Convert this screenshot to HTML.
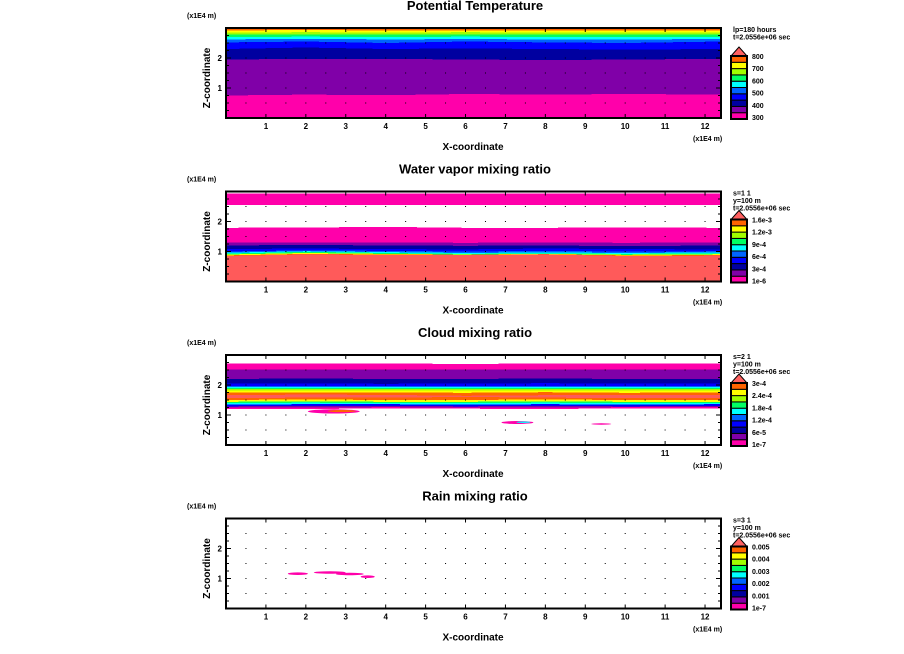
<!DOCTYPE html>
<html><head><meta charset="utf-8">
<style>
html,body{margin:0;padding:0;background:#fff;}
svg{display:block;font-family:"Liberation Sans",sans-serif;}
text{font-weight:bold;fill:#000;}
</style></head>
<body>
<svg id="chart" width="904" height="654" viewBox="0 0 904 654" xmlns="http://www.w3.org/2000/svg"></svg>
<script>
// ---- data ----
const xSamples = [0, 2, 4, 6, 8, 10, 12.4];
const titles = ["Potential Temperature", "Water vapor mixing ratio", "Cloud mixing ratio", "Rain mixing ratio"];
const legendHeaders = [
  ["lp=180 hours", "t=2.0556e+06 sec"],
  ["s=1 1", "y=100 m", "t=2.0556e+06 sec"],
  ["s=2 1", "y=100 m", "t=2.0556e+06 sec"],
  ["s=3 1", "y=100 m", "t=2.0556e+06 sec"]
];
const legendLabels = [
  ["800", "700", "600", "500", "400", "300"],
  ["1.6e-3", "1.2e-3", "9e-4", "6e-4", "3e-4", "1e-6"],
  ["3e-4", "2.4e-4", "1.8e-4", "1.2e-4", "6e-5", "1e-7"],
  ["0.005", "0.004", "0.003", "0.002", "0.001", "1e-7"]
];
const xTicks = [1, 2, 3, 4, 5, 6, 7, 8, 9, 10, 11, 12];
const zTicks = [1, 2];
const p1Colors = ["P","U","N","B","A","C","G","L","Y","O"];
const p1Tops = [
  [0.75,0.78,0.76,0.80,0.78,0.80,0.78],
  [1.95,1.97,1.97,1.95,1.93,1.95,1.97],
  [2.30,2.35,2.30,2.32,2.30,2.28,2.30],
  [2.52,2.55,2.50,2.55,2.52,2.50,2.55],
  [2.62,2.64,2.62,2.63,2.62,2.62,2.63],
  [2.70,2.71,2.70,2.71,2.70,2.70,2.70],
  [2.78,2.79,2.78,2.78,2.78,2.78,2.78],
  [2.85,2.86,2.85,2.86,2.85,2.85,2.85],
  [2.92,2.93,2.92,2.92,2.92,2.92,2.92],
  [3,3,3,3,3,3,3]
];
const p2Colors = ["S","O","Y","G","C","A","B","N","U","P","W","P","W"];
const p2Tops = [
  [0.85,0.90,0.88,0.88,0.90,0.85,0.86],
  [0.87,0.92,0.90,0.89,0.91,0.87,0.88],
  [0.90,0.95,0.92,0.90,0.92,0.89,0.91],
  [0.93,0.99,0.95,0.92,0.94,0.92,0.94],
  [0.96,1.01,0.98,0.95,0.97,0.95,0.97],
  [1.00,1.04,1.02,1.00,1.02,1.00,1.01],
  [1.08,1.10,1.08,1.07,1.10,1.08,1.07],
  [1.20,1.22,1.20,1.19,1.20,1.18,1.20],
  [1.30,1.30,1.30,1.29,1.30,1.29,1.30],
  [1.79,1.80,1.82,1.79,1.79,1.80,1.79],
  [2.55,2.55,2.55,2.55,2.55,2.55,2.55],
  [2.93,2.93,2.93,2.93,2.93,2.93,2.93],
  [3,3,3,3,3,3,3]
];
const p3Colors = ["W","P","U","B","C","G","Y","O","S","O","Y","L","G","C","A","B","N","U","P","W"];
const p3Tops = [
  [1.20,1.20,1.22,1.21,1.20,1.22,1.22],
  [1.25,1.25,1.26,1.25,1.25,1.26,1.26],
  [1.29,1.30,1.30,1.29,1.30,1.29,1.30],
  [1.35,1.36,1.36,1.35,1.36,1.35,1.36],
  [1.40,1.41,1.40,1.40,1.41,1.40,1.40],
  [1.44,1.45,1.44,1.44,1.45,1.44,1.44],
  [1.50,1.52,1.50,1.50,1.52,1.50,1.50],
  [1.56,1.58,1.58,1.60,1.58,1.56,1.56],
  [1.66,1.68,1.67,1.64,1.66,1.66,1.67],
  [1.75,1.75,1.75,1.74,1.76,1.74,1.75],
  [1.82,1.82,1.82,1.82,1.82,1.82,1.82],
  [1.86,1.86,1.86,1.86,1.86,1.86,1.86],
  [1.90,1.90,1.90,1.90,1.90,1.90,1.90],
  [1.93,1.93,1.93,1.93,1.93,1.93,1.93],
  [1.97,1.97,1.97,1.97,1.97,1.97,1.97],
  [2.05,2.05,2.04,2.05,2.06,2.05,2.05],
  [2.20,2.22,2.20,2.20,2.22,2.20,2.20],
  [2.52,2.52,2.52,2.52,2.52,2.52,2.52],
  [2.72,2.72,2.72,2.70,2.72,2.72,2.72],
  [3,3,3,3,3,3,3]
];
const p3BlobX = [2.7, 2.9, 7.3, 7.45, 9.4];
const p3BlobZ = [1.12, 1.13, 0.75, 0.76, 0.70];
const p3BlobW = [1.3, 0.7, 0.8, 0.35, 0.5];
const p3BlobH = [0.14, 0.07, 0.1, 0.05, 0.05];
const p3BlobC = ["P", "O", "P", "C", "P"];
const p4BlobX = [1.8, 2.6, 3.1, 3.55];
const p4BlobZ = [1.16, 1.2, 1.15, 1.06];
const p4BlobW = [0.5, 0.8, 0.7, 0.35];
const p4BlobH = [0.09, 0.08, 0.08, 0.09];
const p4BlobC = ["P", "P", "P", "P"];
const legendColors = ["P","U","N","B","A","C","G","L","Y","O"];

// ---- rendering ----
const COL = {P:"#ff00aa",U:"#8000a8",N:"#0000a0",B:"#0000ff",A:"#0064ff",C:"#00ffff",G:"#00ff64",L:"#a0ff00",Y:"#ffff00",O:"#ff6400",S:"#ff5a5a",W:"#ffffff"};
const NS = "http://www.w3.org/2000/svg";
const svg = document.getElementById("chart");
const X0 = 226, X1 = 721, XMAX = 12.4, ZMAX = 3;
const PTOP = [28, 191.5, 355, 518.5], PH = 90;
function sx(x){ return X0 + (x / XMAX) * (X1 - X0); }
function mk(tag, attrs, parent){ const e = document.createElementNS(NS, tag); for (const k in attrs) e.setAttribute(k, attrs[k]); (parent||svg).appendChild(e); return e; }
function txt(s, x, y, size, anchor, parent){ const t = mk("text", {x:x, y:y, "font-size":size, "text-anchor":anchor||"start"}, parent); t.textContent = s; return t; }

const panelTops = [p1Tops, p2Tops, p3Tops, null];
const panelColors = [p1Colors, p2Colors, p3Colors, null];
const blobSets = [null, null, [p3BlobX,p3BlobZ,p3BlobW,p3BlobH,p3BlobC], [p4BlobX,p4BlobZ,p4BlobW,p4BlobH,p4BlobC]];

for (let p = 0; p < 4; p++) {
  const top = PTOP[p];
  const sz = z => top + PH - (z / ZMAX) * PH;
  const g = mk("g", {});
  
  
  const tt = txt(titles[p], 475, top - 18, 13, "middle", g);
  
  
  mk("rect", {x:X0, y:top, width:X1-X0, height:PH, fill:"#fff"}, g);
  const tops = panelTops[p];
  if (tops) {
    let prev = xSamples.map(() => 0);
    for (let b = 0; b < tops.length; b++) {
      const cur = tops[b];
      let pts = xSamples.map((x,i) => sx(x) + "," + sz(cur[i]));
      pts = pts.concat(xSamples.slice().reverse().map((x,i) => sx(x) + "," + sz(prev[xSamples.length-1-i])));
      const poly = mk("polygon", {points: pts.join(" "), fill: COL[panelColors[p][b]], "shape-rendering":"crispEdges"}, g);
      
      
      prev = cur;
    }
  }
  const bs = blobSets[p];
  if (bs) {
    for (let i = 0; i < bs[0].length; i++) {
      const e = mk("ellipse", {cx:sx(bs[0][i]), cy:sz(bs[1][i]), rx:(sx(bs[2][i]) - sx(0))/2, ry:(bs[3][i]/ZMAX*PH)/2, fill:COL[bs[4][i]]}, g);
      
      
    }
  }
  for (let x = 0.5; x < XMAX; x += 0.5) for (let z = 0.5; z < ZMAX; z += 0.5)
    mk("rect", {x:sx(x)-0.5, y:sz(z)-0.5, width:1, height:1, fill:"#000"}, g);
  const fr = mk("rect", {x:X0, y:top, width:X1-X0, height:PH, fill:"none", stroke:"#000", "stroke-width":2}, g);
  
  
  xTicks.forEach(v => {
    mk("line", {x1:sx(v), x2:sx(v), y1:top+PH, y2:top+PH-4, stroke:"#000"}, g);
    mk("line", {x1:sx(v), x2:sx(v), y1:top, y2:top+4, stroke:"#000"}, g);
    const t = txt(String(v), sx(v), top+PH+11, 8, "middle", g);
    
    
  });
  for (let z = 0.25; z < ZMAX; z += 0.25) {
    const len = (Math.abs(z - Math.round(z)) < 0.01) ? 5 : 3;
    mk("line", {x1:X0, x2:X0+len, y1:sz(z), y2:sz(z), stroke:"#000"}, g);
    mk("line", {x1:X1, x2:X1-len, y1:sz(z), y2:sz(z), stroke:"#000"}, g);
  }
  zTicks.forEach(v => {
    const t = txt(String(v), X0-4, sz(v)+3, 8, "end", g);
    
    
  });
  const u1 = txt("(x1E4 m)", 187, top - 10, 7, "start", g);
  
  
  const u2 = txt("(x1E4 m)", 693, top + PH + 23, 7, "start", g);
  
  
  const xl = txt("X-coordinate", 473, top + PH + 32, 10, "middle", g);
  
  
  const zl = txt("Z-coordinate", 0, 0, 10, "middle", g);
  zl.setAttribute("transform", "translate(210," + (top + PH/2 + 5) + ") rotate(-90)");
  
  
  const lg = mk("g", {}, g);
  
  
  legendHeaders[p].forEach((s, i) => txt(s, 733, top + 4 + i*7.5, 7, "start", lg));
  const bx = 731, bw = 16, bBot = top + PH + 1, bTop = top + 28, bh = (bBot - bTop) / legendColors.length;
  legendColors.forEach((c, i) => {
    const r = mk("rect", {x:bx, y:bBot - (i+1)*bh, width:bw, height:bh, fill:COL[c], stroke:"#000", "stroke-width":1}, lg);
    
    
  });
  mk("polygon", {points: bx+","+bTop+" "+(bx+bw)+","+bTop+" "+(bx+bw/2)+","+(bTop-9), fill:"#ff6060", stroke:"#000"}, lg);
  mk("rect", {x:bx, y:bTop, width:bw, height:bBot-bTop, fill:"none", stroke:"#000", "stroke-width":2}, lg);
  legendLabels[p].forEach((s, i) => {
    const t = txt(s, 752, bTop + 3 + i * ((bBot - bTop - 2) / 5), 7, "start", lg);
    
    
  });
}
</script>
</body></html>
